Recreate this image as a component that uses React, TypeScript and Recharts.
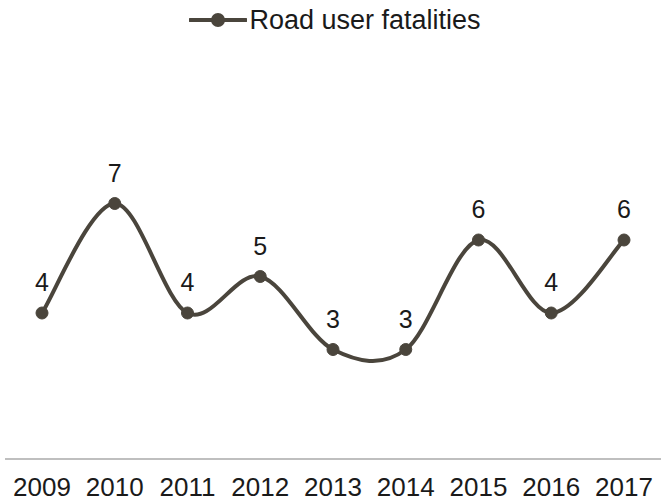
import { LineChart, Line, XAxis, YAxis, Legend, LabelList } from 'recharts';

const years = ['2009', '2010', '2011', '2012', '2013', '2014', '2015', '2016', '2017'];
const fatalities = [4, 7, 4, 5, 3, 3, 6, 4, 6];
const seriesName = 'Road user fatalities';

const LINE = '#4a453c';
const FONT = '"Liberation Sans", Arial, sans-serif';

const data = years.map((year, i) => ({ year, value: fatalities[i] }));

// Excel-like smoothed line (Catmull-Rom through the points)
function smoothCurve(context: any) {
  let pts: [number, number][] = [];
  return {
    areaStart() {},
    areaEnd() {},
    lineStart() {
      pts = [];
    },
    point(x: number, y: number) {
      pts.push([+x, +y]);
    },
    lineEnd() {
      if (!pts.length) return;
      context.moveTo(pts[0][0], pts[0][1]);
      for (let i = 0; i < pts.length - 1; i++) {
        const p0 = pts[i - 1] || pts[i];
        const p1 = pts[i];
        const p2 = pts[i + 1];
        const p3 = pts[i + 2] || pts[i + 1];
        context.bezierCurveTo(
          p1[0] + (p2[0] - p0[0]) / 6,
          p1[1] + (p2[1] - p0[1]) / 6,
          p2[0] - (p3[0] - p1[0]) / 6,
          p2[1] - (p3[1] - p1[1]) / 6,
          p2[0],
          p2[1]
        );
      }
    },
  };
}

function LegendContent() {
  return (
    <div style={{ height: 40, display: 'flex', justifyContent: 'center', alignItems: 'center' }}>
      <svg width={58} height={16} style={{ marginRight: 2 }}>
        <line x1={1} y1={8} x2={57} y2={8} stroke={LINE} strokeWidth={4} strokeLinecap="round" />
        <circle cx={29} cy={8} r={7} fill={LINE} />
      </svg>
      <span style={{ fontFamily: FONT, fontSize: 27, color: '#1a1a1a' }}>{seriesName}</span>
    </div>
  );
}

export default function App() {
  return (
    <div style={{ position: 'absolute', left: 0, top: 0, background: '#fff' }}>
      <LineChart width={670} height={503} data={data} margin={{ top: 54, right: 9, bottom: 0, left: 5 }}>
        <Legend
          verticalAlign="top"
          align="center"
          content={<LegendContent />}
          wrapperStyle={{ top: 0, left: 0, width: 670 }}
        />
        <YAxis hide domain={[0, 10]} />
        <XAxis
          dataKey="year"
          padding={{ left: 37, right: 37 }}
          height={44}
          axisLine={{ stroke: '#bfbfbf', strokeWidth: 2 }}
          tickLine={false}
          tickMargin={13}
          interval={0}
          tick={{ fontSize: 26, fill: '#1a1a1a', fontFamily: FONT }}
        />
        <Line
          dataKey="value"
          name={seriesName}
          type={smoothCurve as any}
          stroke={LINE}
          strokeWidth={4}
          dot={{ r: 6, fill: LINE, stroke: LINE, strokeWidth: 1 }}
          activeDot={false}
          isAnimationActive={false}
        >
          <LabelList dataKey="value" position="top" offset={22} style={{ fontSize: 25, fill: '#1a1a1a', fontFamily: FONT }} />
        </Line>
      </LineChart>
    </div>
  );
}
